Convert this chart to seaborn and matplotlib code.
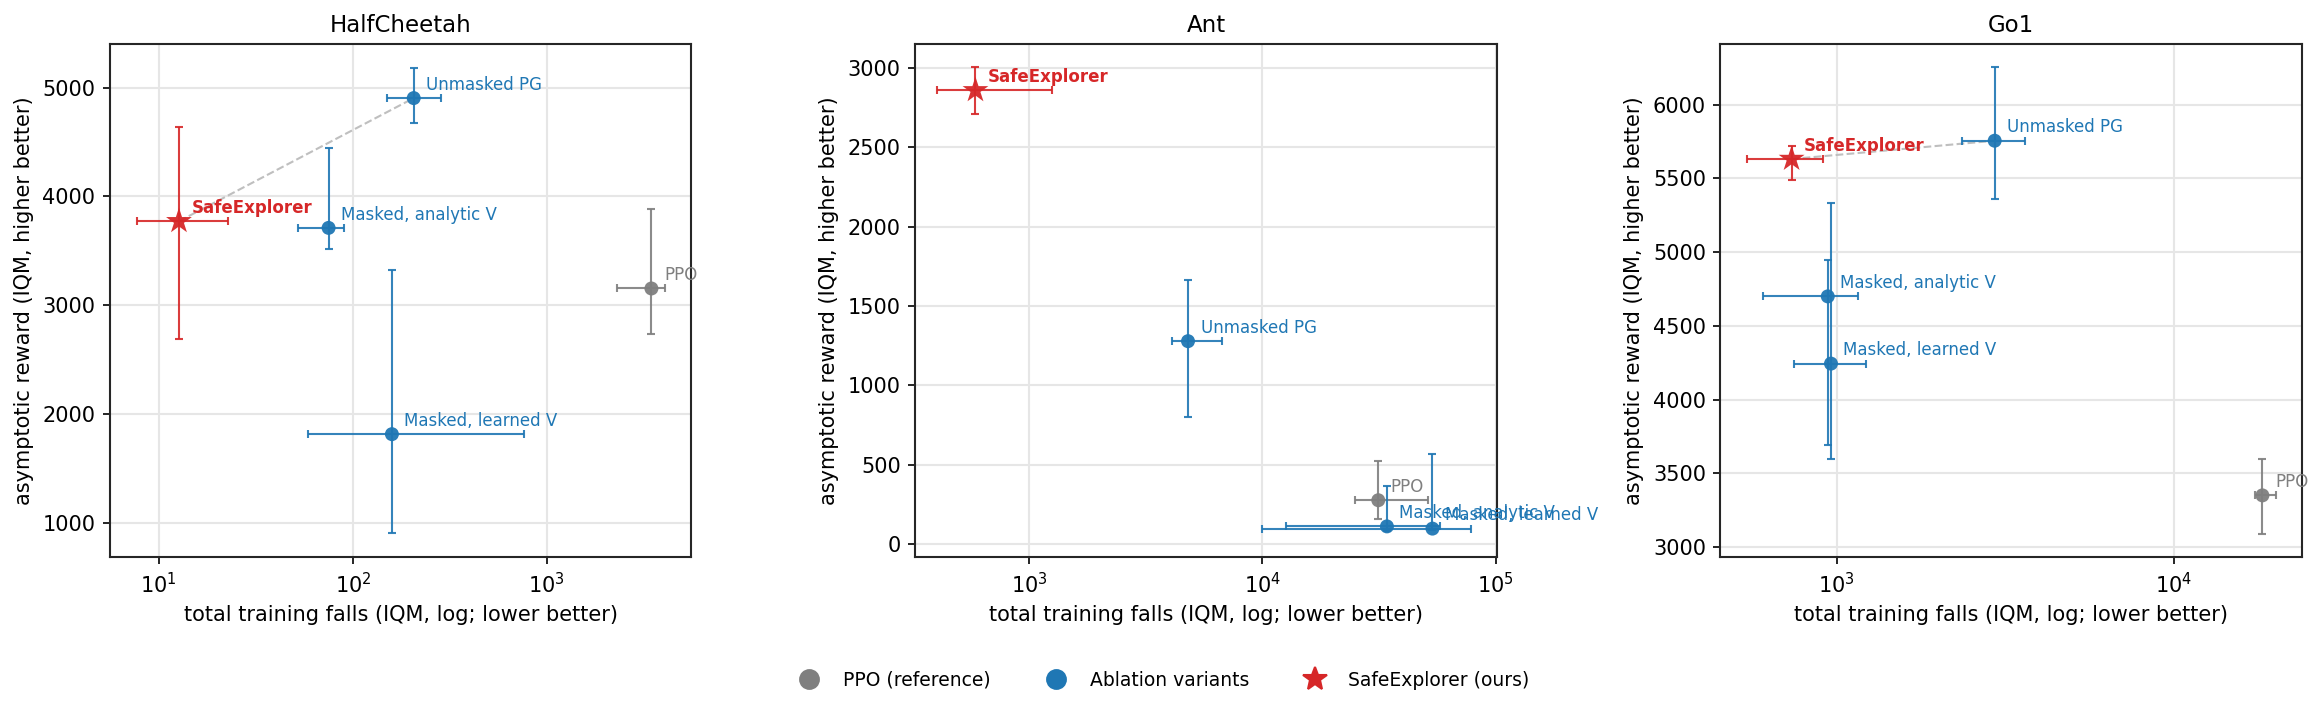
import numpy as np
import pandas as pd
import matplotlib
matplotlib.use("Agg")
import matplotlib.pyplot as plt
from matplotlib.lines import Line2D
import seaborn as sns

# values (IQM with interval ends)
envs = ["HalfCheetah", "Ant", "Go1"]
methods = ["PPO", "Unmasked PG", "Masked, analytic V", "Masked, learned V", "SafeExplorer"]
groups = ["PPO", "Ablation", "Ablation", "Ablation", "SafeExplorer"]

falls = {
    "HalfCheetah": [3460, 206, 75, 159, 12.7],
    "Ant": [31400, 4800, 34200, 53600, 589],
    "Go1": [18360, 2945, 941, 962, 735],
}
falls_lo = {
    "HalfCheetah": [2310, 150, 52, 59, 7.7],
    "Ant": [24900, 4110, 12600, 10000, 401],
    "Go1": [17460, 2360, 605, 747, 542],
}
falls_hi = {
    "HalfCheetah": [4060, 286, 90, 766, 22.7],
    "Ant": [51200, 6710, 58000, 78300, 1250],
    "Go1": [20200, 3614, 1155, 1219, 911],
}
reward = {
    "HalfCheetah": [3153, 4903, 3710, 1814, 3771],
    "Ant": [275, 1278, 110, 96, 2860],
    "Go1": [3350, 5756, 4700, 4244, 5632],
}
reward_lo = {
    "HalfCheetah": [2734, 4676, 3514, 906, 2685],
    "Ant": [155, 801, 80, 85, 2710],
    "Go1": [3087, 5363, 3690, 3599, 5487],
}
reward_hi = {
    "HalfCheetah": [3887, 5183, 4440, 3321, 4633],
    "Ant": [521, 1664, 363, 565, 3004],
    "Go1": [3600, 6253, 4944, 5331, 5722],
}

xlims = {"HalfCheetah": (5.6, 5560), "Ant": (325, 1.01e5), "Go1": (452, 24050)}
ylims = {"HalfCheetah": (685, 5400), "Ant": (-83, 3152), "Go1": (2932, 6412)}

colors = {"PPO": "#7f7f7f", "Ablation": "#1f77b4", "SafeExplorer": "#d62728"}
marker_map = {"PPO": "o", "Ablation": "o", "SafeExplorer": "*"}
size_map = {"PPO": 45, "Ablation": 45, "SafeExplorer": 170}

sns.set_style("ticks")
plt.rcParams["font.family"] = ["DejaVu Sans"]
plt.rcParams["text.color"] = "black"
plt.rcParams["axes.labelcolor"] = "black"
plt.rcParams["xtick.color"] = "black"
plt.rcParams["ytick.color"] = "black"

fig, axes = plt.subplots(1, 3, figsize=(2320 / 150, 710 / 150), dpi=150)
fig.subplots_adjust(left=0.0474, right=0.9922, bottom=0.2155, top=0.938, wspace=0.385)

for ax, env in zip(axes, envs):
    df = pd.DataFrame({
        "method": methods,
        "group": groups,
        "falls": falls[env],
        "falls_lo": falls_lo[env],
        "falls_hi": falls_hi[env],
        "reward": reward[env],
        "reward_lo": reward_lo[env],
        "reward_hi": reward_hi[env],
    })

    # dashed link from SafeExplorer to the ablation that beats it on reward
    se = df[df["group"] == "SafeExplorer"].iloc[0]
    abl = df[df["group"] == "Ablation"]
    best = abl.loc[abl["reward"].idxmax()]
    if best["reward"] > se["reward"]:
        ax.plot([se["falls"], best["falls"]], [se["reward"], best["reward"]],
                ls="--", color="0.75", lw=1, zorder=1)

    for _, r in df.iterrows():
        c = colors[r["group"]]
        ax.errorbar(r["falls"], r["reward"],
                    xerr=[[r["falls"] - r["falls_lo"]], [r["falls_hi"] - r["falls"]]],
                    yerr=[[r["reward"] - r["reward_lo"]], [r["reward_hi"] - r["reward"]]],
                    fmt="none", ecolor=c, elinewidth=1, capsize=2, capthick=1,
                    alpha=0.9, zorder=2)

    sns.scatterplot(data=df, x="falls", y="reward", hue="group", style="group",
                    size="group", palette=colors, markers=marker_map, sizes=size_map,
                    linewidth=0, alpha=0.95, legend=False, ax=ax, zorder=3)

    for _, r in df.iterrows():
        c = colors[r["group"]]
        bold = r["group"] == "SafeExplorer"
        ax.annotate(r["method"], (r["falls"], r["reward"]), xytext=(6, 4),
                    textcoords="offset points", fontsize=8, color=c,
                    fontweight="bold" if bold else "normal", zorder=4)

    ax.set_xscale("log")
    ax.set_xlim(*xlims[env])
    ax.set_ylim(*ylims[env])
    ax.minorticks_off()
    ax.grid(True, which="major", color="#e6e6e6", lw=1)
    ax.set_axisbelow(True)
    ax.set_title(env, fontsize=11)
    ax.set_xlabel("total training falls (IQM, log; lower better)", fontsize=10)
    ax.set_ylabel("asymptotic reward (IQM, higher better)", fontsize=10)
    ax.tick_params(labelsize=10)
    for s in ax.spines.values():
        s.set_color("#262626")
        s.set_linewidth(1.0)

handles = [
    Line2D([], [], ls="none", marker="o", ms=9, color=colors["PPO"]),
    Line2D([], [], ls="none", marker="o", ms=9, color=colors["Ablation"]),
    Line2D([], [], ls="none", marker="*", ms=12, color=colors["SafeExplorer"]),
]
fig.legend(handles, ["PPO (reference)", "Ablation variants", "SafeExplorer (ours)"],
           loc="lower center", ncol=3, frameon=False, fontsize=9,
           bbox_to_anchor=(0.5, 0.005), columnspacing=2.5)

fig.savefig("out.png", dpi=150)
